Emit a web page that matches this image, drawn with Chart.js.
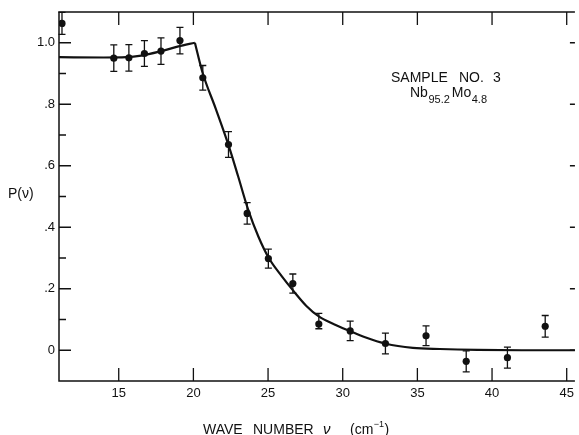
<!DOCTYPE html>
<html>
<head>
  <title>P(nu) sample no. 3</title>
  <script src="https://cdn.jsdelivr.net/npm/chart.js"></script>
  <style>
    body { margin: 0; background: #fff; }
  </style>
</head>
<body>
  <canvas id="grafico" width="579" height="435"></canvas>
<script>
  // measured points (wave number, P, error bar up / down)
  var nuPontos = [11.2, 14.67, 15.68, 16.72, 17.83, 19.1, 20.63, 22.35, 23.6, 25.02, 26.66, 28.4, 30.5, 32.86, 35.58, 38.27, 41.03, 43.56];
  var pPontos = [1.063, 0.950, 0.951, 0.965, 0.973, 1.007, 0.886, 0.669, 0.445, 0.298, 0.217, 0.085, 0.063, 0.022, 0.047, -0.036, -0.024, 0.078];
  var erroCima = [0.036, 0.043, 0.043, 0.042, 0.043, 0.043, 0.040, 0.042, 0.035, 0.031, 0.031, 0.035, 0.032, 0.034, 0.032, 0.034, 0.034, 0.035];
  var erroBaixo = [0.036, 0.043, 0.043, 0.042, 0.043, 0.043, 0.040, 0.042, 0.035, 0.031, 0.031, 0.015, 0.032, 0.034, 0.032, 0.034, 0.034, 0.035];

  // theoretical curve (two pieces, sharp peak at 20.1)
  var nuSubida = [11, 14, 15.5, 16.5, 17.8, 19.0, 20.1];
  var pSubida = [0.953, 0.952, 0.953, 0.958, 0.972, 0.988, 1.0];
  var nuQueda = [20.1, 20.6, 21.5, 22.4, 23.0, 23.65, 24.35, 25.05, 25.9, 26.7, 27.55, 28.4, 29.45, 30.5, 31.5, 32.9, 34.7, 36.5, 39, 42, 45.55];
  var pQueda = [1.0, 0.905, 0.785, 0.66, 0.565, 0.46, 0.37, 0.30, 0.242, 0.193, 0.145, 0.11, 0.084, 0.062, 0.042, 0.021, 0.008, 0.004, 0.001, 0.0, 0.0];

  // axis ticks
  var xTicks = [15, 20, 25, 30, 35, 40, 45];
  var yTicks = [0, 0.2, 0.4, 0.6, 0.8, 1.0];
  var yMenores = [0.1, 0.3, 0.5, 0.7, 0.9];

  var fonte = "'Liberation Sans', Arial, sans-serif";
  var tinta = "#111";

  function pares(xs, ys) {
    var r = [];
    for (var i = 0; i < xs.length; i++) r.push({ x: xs[i], y: ys[i] });
    return r;
  }

  var enfeites = {
    id: "enfeites",
    beforeDatasetsDraw: function (chart) {
      var ctx = chart.ctx;
      var ys = chart.scales.y;
      var meta = chart.getDatasetMeta(2);
      ctx.save();
      ctx.strokeStyle = tinta;
      ctx.lineWidth = 1.3;
      for (var i = 0; i < nuPontos.length; i++) {
        var px = meta.data[i].x;
        var y1 = ys.getPixelForValue(pPontos[i] + erroCima[i]);
        var y2 = ys.getPixelForValue(pPontos[i] - erroBaixo[i]);
        ctx.beginPath();
        ctx.moveTo(px, y1); ctx.lineTo(px, y2);
        ctx.moveTo(px - 3.5, y1); ctx.lineTo(px + 3.5, y1);
        ctx.moveTo(px - 3.5, y2); ctx.lineTo(px + 3.5, y2);
        ctx.stroke();
      }
      ctx.restore();
    },
    afterDraw: function (chart) {
      var ctx = chart.ctx;
      var a = chart.chartArea;
      var xs = chart.scales.x;
      var ys = chart.scales.y;
      ctx.save();
      ctx.strokeStyle = tinta;
      ctx.lineWidth = 1.5;
      // frame
      ctx.beginPath();
      ctx.moveTo(a.right, a.top); ctx.lineTo(a.left, a.top);
      ctx.lineTo(a.left, a.bottom); ctx.lineTo(a.right, a.bottom);
      ctx.stroke();
      // inward ticks
      ctx.lineWidth = 1.3;
      ctx.beginPath();
      xTicks.forEach(function (v) {
        var px = xs.getPixelForValue(v);
        ctx.moveTo(px, a.bottom); ctx.lineTo(px, a.bottom - 13);
        ctx.moveTo(px, a.top); ctx.lineTo(px, a.top + 13);
      });
      yTicks.forEach(function (v) {
        var py = ys.getPixelForValue(v);
        ctx.moveTo(a.left, py); ctx.lineTo(a.left + 12, py);
        ctx.moveTo(a.right, py); ctx.lineTo(a.right - 5, py);
      });
      yMenores.forEach(function (v) {
        var py = ys.getPixelForValue(v);
        ctx.moveTo(a.left, py); ctx.lineTo(a.left + 7, py);
      });
      ctx.stroke();

      // texts
      ctx.fillStyle = tinta;
      ctx.textBaseline = "alphabetic";
      ctx.textAlign = "left";
      ctx.font = "14px " + fonte;
      ctx.fillText("SAMPLE", 391, 82);
      ctx.fillText("NO.", 459, 82);
      ctx.fillText("3", 493, 82);

      var x0 = 410;
      ctx.font = "14px " + fonte;
      ctx.fillText("Nb", x0, 97);
      x0 += ctx.measureText("Nb").width + 0.5;
      ctx.font = "11px " + fonte;
      ctx.fillText("95.2", x0, 103);
      x0 += ctx.measureText("95.2").width + 2;
      ctx.font = "14px " + fonte;
      ctx.fillText("Mo", x0, 97);
      x0 += ctx.measureText("Mo").width + 0.5;
      ctx.font = "11px " + fonte;
      ctx.fillText("4.8", x0, 103);

      ctx.font = "14px " + fonte;
      ctx.textBaseline = "middle";
      ctx.fillText("P(\u03bd)", 8, 194);

      ctx.textBaseline = "alphabetic";
      ctx.fillText("WAVE", 203, 434);
      ctx.fillText("NUMBER", 253, 434);
      ctx.font = "italic 15px " + fonte;
      ctx.fillText("\u03bd", 323, 434);
      ctx.font = "14px " + fonte;
      ctx.fillText("(cm", 350, 434);
      var w = ctx.measureText("(cm").width;
      ctx.font = "9px " + fonte;
      ctx.fillText("\u22121", 350 + w + 0.5, 427);
      var w2 = ctx.measureText("\u22121").width;
      ctx.font = "14px " + fonte;
      ctx.fillText(")", 350 + w + w2 + 1, 434);
      ctx.restore();
    }
  };

  var config = {
    type: "scatter",
    data: {
      datasets: [
        {
          data: pares(nuSubida, pSubida),
          showLine: true,
          borderColor: tinta,
          borderWidth: 2.2,
          pointRadius: 0,
          cubicInterpolationMode: "monotone"
        },
        {
          data: pares(nuQueda, pQueda),
          showLine: true,
          borderColor: tinta,
          borderWidth: 2.2,
          pointRadius: 0,
          cubicInterpolationMode: "monotone"
        },
        {
          data: pares(nuPontos, pPontos),
          showLine: false,
          pointRadius: 3.6,
          pointBackgroundColor: tinta,
          pointBorderColor: tinta,
          pointBorderWidth: 0
        }
      ]
    },
    options: {
      responsive: false,
      animation: false,
      devicePixelRatio: 1,
      layout: { padding: { top: 12, right: 0, left: 0, bottom: 0 } },
      plugins: { legend: { display: false }, tooltip: { enabled: false } },
      scales: {
        x: {
          type: "linear",
          min: 11,
          max: 45.55,
          grid: { display: false, drawTicks: false },
          border: { display: false },
          afterBuildTicks: function (s) { s.ticks = xTicks.map(function (v) { return { value: v }; }); },
          afterFit: function (s) { s.height = 54; },
          ticks: { color: tinta, padding: 5, font: { family: fonte, size: 13 } }
        },
        y: {
          type: "linear",
          min: -0.1,
          max: 1.1,
          grid: { display: false, drawTicks: false },
          border: { display: false },
          afterBuildTicks: function (s) { s.ticks = yTicks.map(function (v) { return { value: v }; }); },
          afterFit: function (s) { s.width = 59; },
          ticks: {
            color: tinta,
            padding: 4,
            font: { family: fonte, size: 13 },
            callback: function (v) {
              if (Math.abs(v - 1) < 1e-6) return "1.0";
              if (Math.abs(v) < 1e-6) return "0";
              return "." + Math.round(v * 10);
            }
          }
        }
      }
    },
    plugins: [enfeites]
  };

  var grafico = new Chart(document.getElementById("grafico"), config);
</script>
</body>
</html>
